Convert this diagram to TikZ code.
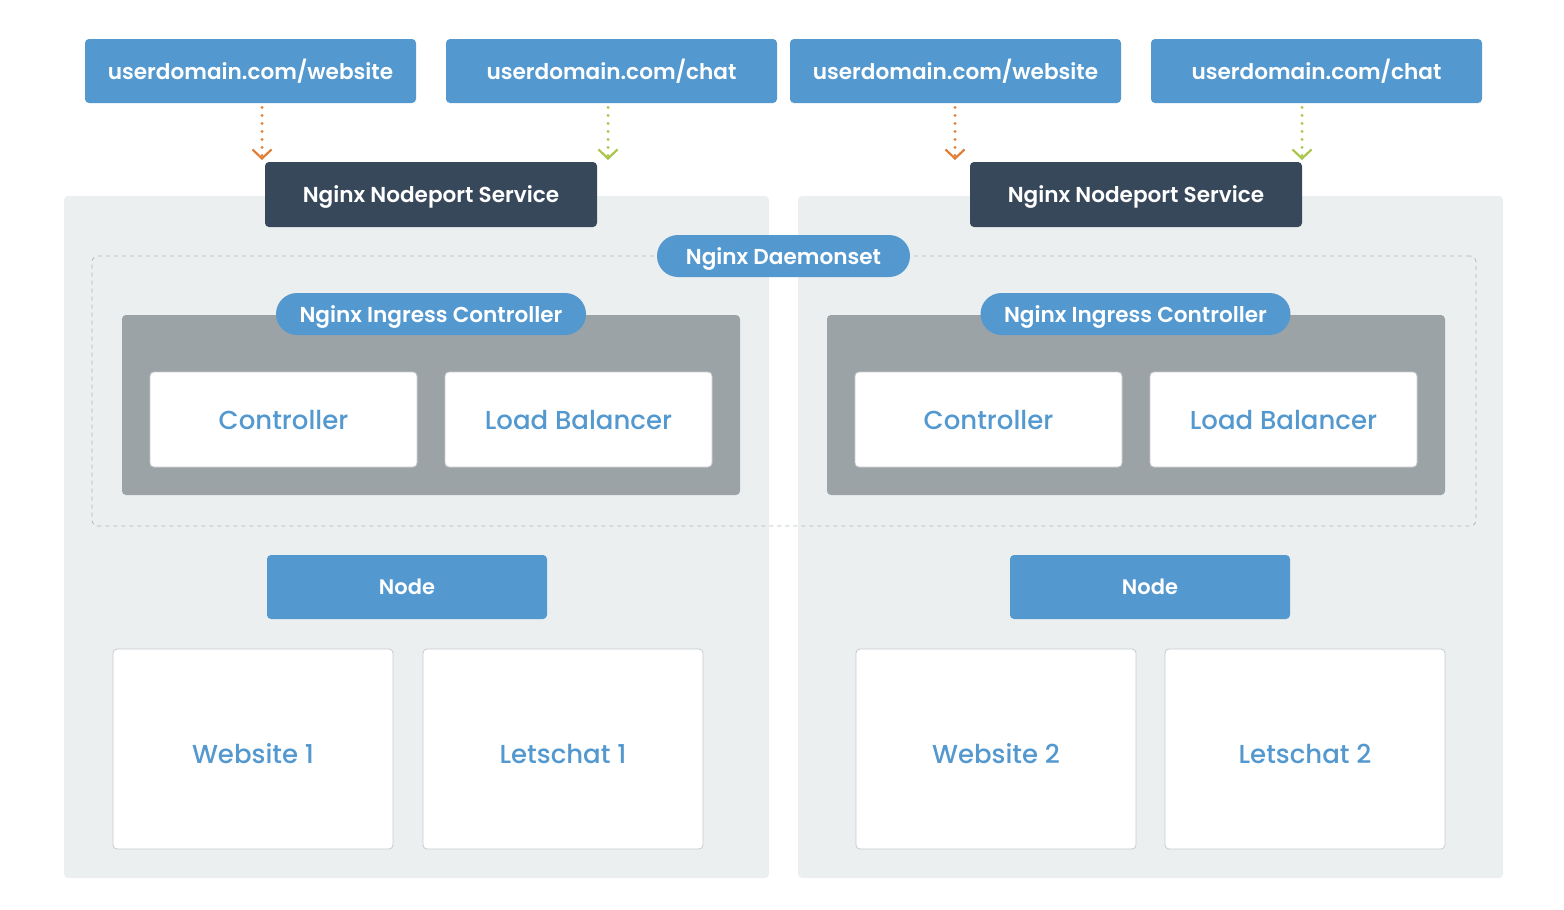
\documentclass[tikz,border=0pt]{standalone}
\usepackage{fontspec}
\setmainfont{Poppins}
\newfontfamily\semifont{Poppins SemiBold}
\newfontfamily\medfont{Poppins Medium}
\usepackage{tikz}
\usetikzlibrary{arrows.meta}
\definecolor{nblue}{HTML}{5398CF}
\definecolor{ndark}{HTML}{37485B}
\definecolor{npanel}{HTML}{ECEFF0}
\definecolor{ngray}{HTML}{9CA3A6}
\definecolor{nline}{HTML}{C6CBCE}
\definecolor{norange}{HTML}{E07E36}
\definecolor{ngreen}{HTML}{A8C649}

\begin{document}
\begin{tikzpicture}[x=0.5pt,y=-0.5pt]
\tikzstyle{url} = [rectangle, rounded corners=2pt, fill=nblue, text=white, font=\semifont\fontsize{10.8}{12}\selectfont, minimum width=165.5pt, minimum height=32pt, inner sep=0pt]
\tikzstyle{service} = [rectangle, rounded corners=2pt, fill=ndark, text=white, font=\semifont\fontsize{10.8}{12}\selectfont, text height=8.3pt, text depth=0pt, minimum width=166pt, minimum height=32.5pt, inner sep=0pt]
\tikzstyle{panel} = [rectangle, rounded corners=2pt, fill=npanel, minimum width=352.5pt, minimum height=341pt, inner sep=0pt]
\tikzstyle{frame} = [rectangle, rounded corners=3pt, draw=ngray!80, dash pattern=on 2pt off 2pt, thin, minimum width=692pt, minimum height=135pt, inner sep=0pt]
\tikzstyle{pill} = [rectangle, rounded corners=10.5pt, fill=nblue, text=white, font=\semifont\fontsize{10.8}{12}\selectfont, text height=8.3pt, text depth=0pt, minimum height=21pt, inner sep=0pt]
\tikzstyle{ingress} = [rectangle, rounded corners=2pt, fill=ngray, minimum width=309pt, minimum height=90pt, inner sep=0pt]
\tikzstyle{part} = [rectangle, rounded corners=2pt, fill=white, draw=nline, text=nblue, font=\medfont\fontsize{13}{15}\selectfont, minimum width=133.5pt, minimum height=47.5pt, inner sep=0pt]
\tikzstyle{nodebox} = [rectangle, rounded corners=2pt, fill=nblue, text=white, font=\semifont\fontsize{10.5}{12}\selectfont, minimum width=140pt, minimum height=32pt, inner sep=0pt]
\tikzstyle{app} = [rectangle, rounded corners=2pt, fill=white, draw=nline, text=nblue, font=\medfont\fontsize{13}{15}\selectfont, text height=14pt, text depth=0pt, minimum width=140pt, minimum height=100pt, inner sep=0pt]
\tikzstyle{orangearrow} = [norange, line width=1.6pt, dash pattern=on 0pt off 4pt, line cap=round, -{Straight Barb[length=4.5pt,width=9.5pt,line width=1.1pt]}]
\tikzstyle{greenarrow} = [ngreen, line width=1.6pt, dash pattern=on 0pt off 4pt, line cap=round, -{Straight Barb[length=4.5pt,width=9.5pt,line width=1.1pt]}]

\useasboundingbox (0,0) rectangle (1564,910);

%panels
\node (panelL) [panel] at (416.5,537) {};
\node (panelR) [panel] at (1150.5,537) {};
\node (daemon) [frame] at (784,391) {};

%nodes
\node (web1) [url] at (250.5,71) {userdomain.com/website};
\node (chat1) [url] at (611.5,71) {userdomain.com/chat};
\node (web2) [url] at (955.5,71) {userdomain.com/website};
\node (chat2) [url] at (1316.5,71) {userdomain.com/chat};
\node (svc1) [service] at (431,194.5) {Nginx Nodeport Service};
\node (svc2) [service] at (1136,194.5) {Nginx Nodeport Service};
\node (dset) [pill, minimum width=126.5pt] at (783.5,256) {Nginx Daemonset};

\node (ing1) [ingress] at (431,405) {};
\node (ing2) [ingress] at (1136,405) {};
\node (ingl1) [pill, minimum width=155pt] at (431,314) {Nginx Ingress Controller};
\node (ingl2) [pill, minimum width=155pt] at (1135.5,314) {Nginx Ingress Controller};
\node (ctl1) [part] at (283.5,419.5) {Controller};
\node (lb1) [part] at (578.5,419.5) {Load Balancer};
\node (ctl2) [part] at (988.5,419.5) {Controller};
\node (lb2) [part] at (1283.5,419.5) {Load Balancer};

\node (node1) [nodebox] at (407,587) {Node};
\node (node2) [nodebox] at (1150,587) {Node};
\node (site1) [app] at (253,749) {Website 1};
\node (lets1) [app] at (563,749) {Letschat 1};
\node (site2) [app] at (996,749) {Website 2};
\node (lets2) [app] at (1305,749) {Letschat 2};

%arrows
\coordinate (t1) at (262,160);
\coordinate (t2) at (608,160);
\coordinate (t3) at (955,160);
\coordinate (t4) at (1302,160);
\draw [orangearrow] ([yshift=-2pt]web1.south -| t1) -- (t1);
\draw [greenarrow] ([yshift=-2pt]chat1.south -| t2) -- (t2);
\draw [orangearrow] ([yshift=-2pt]web2.south -| t3) -- (t3);
\draw [greenarrow] ([yshift=-2pt]chat2.south -| t4) -- (t4);
\end{tikzpicture}
\end{document}
